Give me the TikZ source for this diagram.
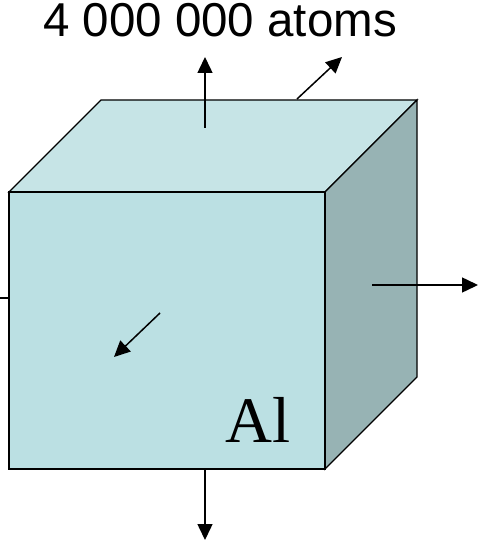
\documentclass[tikz,border=0pt]{standalone}
\usepackage{fontspec}
\setmainfont{Liberation Serif}
\newfontfamily\arialf{Liberation Sans}
\usetikzlibrary{arrows.meta}
\definecolor{topc}{HTML}{C6E4E6}
\definecolor{frontc}{HTML}{BBE0E3}
\definecolor{sidec}{HTML}{97B3B4}
\begin{document}
\begin{tikzpicture}[x=1pt,y=-1pt,
  face/.style={draw=black,line width=1.3pt,line join=miter},
  arr/.style={draw=black,line width=1.5pt,-{Triangle[length=16pt,width=15pt]}}]
\useasboundingbox (0,0) rectangle (481,540);
% cube
\fill[topc,face] (9,192) -- (101,100) -- (417,100) -- (325,192) -- cycle;
\fill[sidec,face] (325,192) -- (417,100) -- (417,377) -- (325,469) -- cycle;
\fill[frontc,face] (9,192) rectangle (325,469);
% coordinates
\coordinate (upS) at (205,128); \coordinate (upE) at (205,57);
\coordinate (drS) at (297,99); \coordinate (drE) at (342,57);
\coordinate (rS) at (372,285); \coordinate (rE) at (478,285);
\coordinate (dS) at (205,469); \coordinate (dE) at (205,540);
\coordinate (flS) at (160,313); \coordinate (flE) at (114,357);
\coordinate (lS) at (0,298); \coordinate (lE) at (9,298);
\draw[arr] (upS) -- (upE);
\draw[arr] (drS) -- (drE);
\draw[arr] (rS) -- (rE);
\draw[arr] (dS) -- (dE);
\draw[arr] (flS) -- (flE);
\draw[black,line width=1.5pt] (lS) -- (lE);
\node[anchor=base,inner sep=0pt] (title) at (220,37) {\arialf\fontsize{47.5}{54}\selectfont 4 000 000 atoms};
\node[anchor=base west,inner sep=0pt] (al) at (225,442) {\fontsize{65}{72}\selectfont Al};
\end{tikzpicture}
\end{document}
